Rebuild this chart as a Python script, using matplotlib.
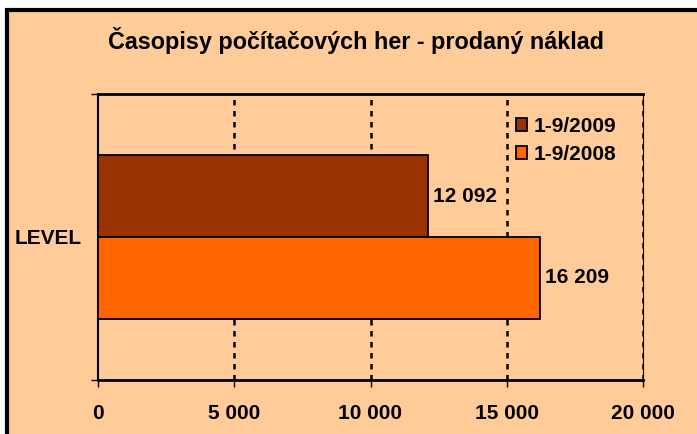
import matplotlib
matplotlib.use('Agg')
from matplotlib import pyplot as plt
from matplotlib.patches import Rectangle
from matplotlib.ticker import FuncFormatter

plt.rcParams['font.family'] = ['Liberation Sans', 'DejaVu Sans']
plt.rcParams['font.weight'] = 'bold'

# data
title = 'Časopisy počítačových her - prodaný náklad'
category = ['LEVEL']
series_names = ['1-9/2009', '1-9/2008']
series_values = [[12092], [16209]]
series_colors = ['#993300', '#FF6600']
x_ticks = [0, 5000, 10000, 15000, 20000]

peach = '#FFCC99'

def fmt_num(v, pos=None):
    return f'{int(v):,}'.replace(',', ' ')

fig = plt.figure(figsize=(6.97, 4.34), dpi=100)
fig.patch.set_facecolor('white')

# chart area frame (cropped at right and bottom like the original)
frame = Rectangle((6.5 / 697, -0.05), 1.1, 1 - 9.5 / 434 + 0.05, transform=fig.transFigure,
                  facecolor=peach, edgecolor='black', linewidth=3, zorder=-10)
fig.patches.append(frame)

ax = fig.add_axes([98 / 697, 1 - 380 / 434, 545 / 697, 286 / 434])
ax.set_facecolor(peach)

bar_h = 0.287
offsets = [0.143, -0.143]
for name, vals, col, off in zip(series_names, series_values, series_colors, offsets):
    ys = [i + off for i in range(len(category))]
    ax.barh(ys, vals, height=bar_h, color=col, edgecolor='black', linewidth=1.3,
            label=name, zorder=3)
    for y, v in zip(ys, vals):
        ax.text(v + 200, y, fmt_num(v), va='center', ha='left', fontsize=15,
                fontweight='bold', zorder=4)

ax.set_xlim(0, 20000)
ax.set_ylim(-0.5, 0.5)

# dashed vertical gridlines
for xv in x_ticks[1:]:
    ax.axvline(xv, color='black', linewidth=1.8, linestyle=(0, (2.2, 2.2)), zorder=2)

ax.set_xticks(x_ticks)
ax.xaxis.set_major_formatter(FuncFormatter(fmt_num))
ax.tick_params(axis='x', direction='out', length=5, width=1, pad=12, labelsize=15)

ax.set_yticks(range(len(category)))
ax.set_yticklabels(category)
ax.set_yticks([-0.5, 0.5], minor=True)
ax.tick_params(axis='y', which='major', length=0, pad=12, labelsize=15)
ax.tick_params(axis='y', which='minor', direction='out', length=5, width=1)

for lbl in ax.get_xticklabels() + ax.get_yticklabels():
    lbl.set_fontweight('bold')

ax.spines['left'].set_linewidth(1.5)
ax.spines['bottom'].set_linewidth(2)
ax.spines['top'].set_linewidth(2)
ax.spines['right'].set_linewidth(0.8)

leg = ax.legend(loc='upper left', bbox_to_anchor=(516 / 697, 1 - 117 / 434),
                bbox_transform=fig.transFigure, frameon=False, fontsize=15,
                handlelength=0.55, handleheight=0.55, handletextpad=0.3,
                labelspacing=0.42, borderpad=0, borderaxespad=0)
for t in leg.get_texts():
    t.set_fontweight('bold')

fig.text(356 / 697, 1 - 40 / 434, title, ha='center', va='center', fontsize=16.8,
         fontweight='bold')

fig.savefig('out.png', dpi=100, facecolor=fig.get_facecolor())
